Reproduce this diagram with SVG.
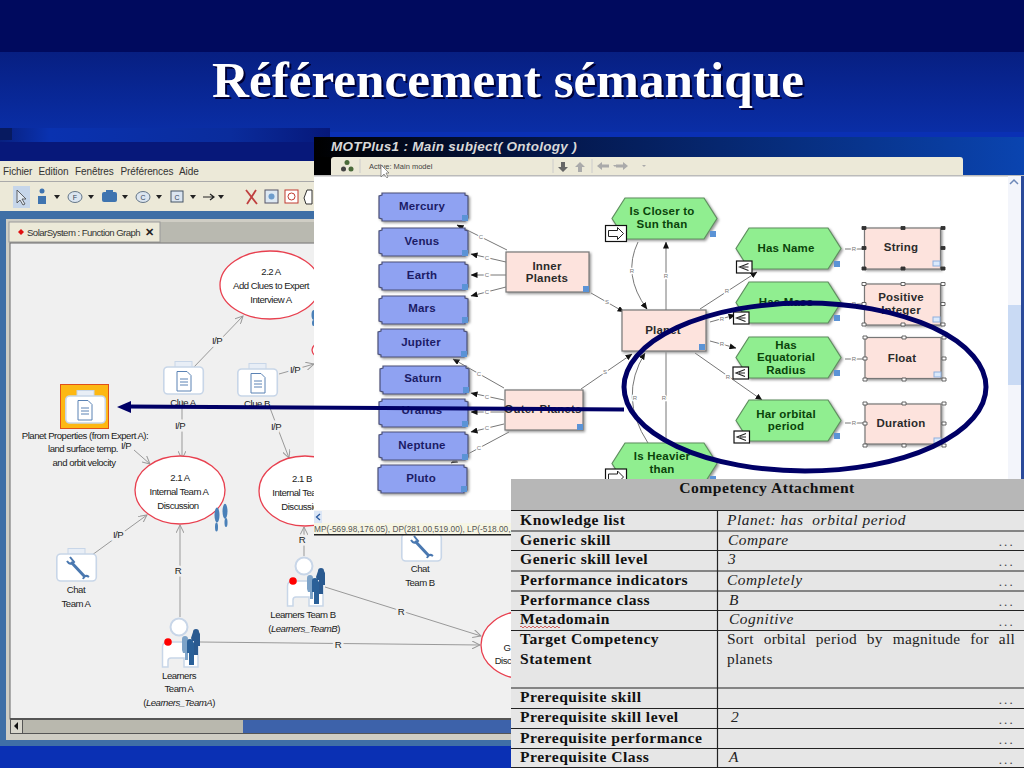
<svg xmlns="http://www.w3.org/2000/svg" width="1024" height="768" viewBox="0 0 1024 768">
<style>
text{font-family:"Liberation Sans",Arial,sans-serif}
.g{font-size:9.6px;fill:#222;text-anchor:middle;letter-spacing:-.5px}
.gl{font-size:9.6px;fill:#222;text-anchor:middle;letter-spacing:-.5px;paint-order:stroke;stroke:#f0f0f0;stroke-width:5px}
.gc{fill:none;stroke:#999;stroke-width:1;marker-end:url(#ga)}
.act{fill:#fff;stroke:#e8404f;stroke-width:1.3}
.m{font-size:10px;fill:#333;letter-spacing:-.1px}
.c{fill:none;stroke:#777;stroke-width:1;marker-end:url(#ma)}
.cn{fill:none;stroke:#777;stroke-width:1}
.cl{font-size:6px;fill:#777;text-anchor:middle;paint-order:stroke;stroke:#fff;stroke-width:2.5px}
.nb{font-size:11.5px;font-weight:bold;fill:#1c1c66;text-anchor:middle;letter-spacing:.2px}
.ng{font-size:11.5px;font-weight:bold;fill:#0a430a;text-anchor:middle;letter-spacing:.2px}
.np{font-size:11.5px;font-weight:bold;fill:#2b2b2b;text-anchor:middle;letter-spacing:.2px}
.concept{fill:#8fa2f2;stroke:#4a4f78;stroke-width:1.2;filter:url(#sh)}
.hex{fill:#90ee90;stroke:#5f8f5f;stroke-width:1.2;filter:url(#sh)}
.pink{fill:#fde3dd;stroke:#777;stroke-width:1.2;filter:url(#sh)}
.tag{fill:#5b93d6}
.hw{fill:#fff;stroke:#555;stroke-width:.9}
.hb{fill:#333;stroke:#333;stroke-width:.9}
.box{fill:#fff;stroke:#111;stroke-width:1.2}
.tl{font-family:"Liberation Serif","Times New Roman",serif;font-size:15.6px;font-weight:bold;fill:#111;letter-spacing:.5px}
.tr{font-family:"Liberation Serif","Times New Roman",serif;font-size:15.4px;font-style:italic;fill:#222;letter-spacing:.55px;white-space:pre}
.tn{font-family:"Liberation Serif","Times New Roman",serif;font-size:15.4px;fill:#222;letter-spacing:.3px}
.dots{font-family:"Liberation Serif","Times New Roman",serif;font-size:13px;fill:#444;text-anchor:end;letter-spacing:2.2px}
.rl{stroke:#222;stroke-width:1.2}
.title{font-family:"Liberation Serif","Times New Roman",serif;font-size:51.2px;font-weight:bold}
</style>
<defs>
<linearGradient id="bg" x1="0" y1="0" x2="0" y2="1"><stop offset="0" stop-color="#071f82"/><stop offset="1" stop-color="#0a2ea6"/></linearGradient>
<linearGradient id="band" x1="0" y1="0" x2="1" y2="0"><stop offset="0" stop-color="#08207f"/><stop offset=".15" stop-color="#0a32b0"/><stop offset=".7" stop-color="#0a2c9c"/><stop offset="1" stop-color="#06187a"/></linearGradient>
<linearGradient id="ttl" x1="0" y1="0" x2="1" y2="0"><stop offset="0" stop-color="#000"/><stop offset=".35" stop-color="#04184e"/><stop offset="1" stop-color="#0a44b0"/></linearGradient>
<filter id="sh" x="-5%" y="-5%" width="115%" height="120%"><feDropShadow dx="1.5" dy="1.5" stdDeviation=".8" flood-color="#999"/></filter>
<marker id="ga" markerWidth="9" markerHeight="8" refX="8" refY="4" orient="auto" markerUnits="userSpaceOnUse"><path d="M0,0 L8,4 L0,8" fill="none" stroke="#999"/></marker>
<marker id="ma" markerWidth="7" markerHeight="6" refX="6.5" refY="3" orient="auto" markerUnits="userSpaceOnUse"><path d="M0,0 L7,3 L0,6 Z" fill="#111"/></marker>
<path id="concept" d="M3,0 H86 V2 L89,3 V25 L86,26 V28 H3 V26 L0,25 V3 L3,2 Z"/>
<path id="hex" d="M13,0 H92 L105,20.5 L92,41 H13 L0,20.5 Z"/>
<g id="case"><rect x="12" y="0.5" width="17" height="8" fill="#e8eef6" stroke="#c8d6e8"/><rect x=".8" y="6" width="39.5" height="27" rx="4" fill="#fff" stroke="#c8d6e8" stroke-width="1.6"/></g>
<g id="doc"><path d="M14,10.5 H24 L28,14.5 V30 H14 Z" fill="#fff" stroke="#5a82b4"/><path d="M17,18 H25 M17,21 H25 M17,24 H25" stroke="#5a82b4"/></g>
<g id="wrench"><path d="M15,14 L29,29" stroke="#4a78b0" stroke-width="3" fill="none"/><path d="M11,13 Q14,18 18,14 L14,9" stroke="#4a78b0" stroke-width="2" fill="none"/><path d="M27,31 Q29,26 33,29" stroke="#4a78b0" stroke-width="2" fill="none"/></g>
<g id="person">
<circle cx="17" cy="10" r="8.5" fill="#fff" stroke="#c8d6e8" stroke-width="2"/>
<path d="M0.5,50 V30 Q.5,25 6,25 H30 Q36,25 36,30 V50 H22 V41 H9 Q6,41 6,44 V50 Z" fill="#fff" stroke="#c8d6e8" stroke-width="1.5"/>
<circle cx="6" cy="25" r="3.8" fill="#f00"/>
<path d="M20,22 a3,3 0 1 1 6,0 l2,3 v11 h-2 v7 h-3 v-7 h-2 l-1,-3 z" fill="#7da3c8"/>
<path d="M25,25 a3,3 0 1 1 6,0 l2,2 v9 h-1 v12 h-5 v-12 h-2 z" fill="#2a6098"/>
<path d="M31,15 a3,3 0 1 1 6,0 l1,2 v12 h-2 v9 h-4 v-14 h-2 l-1,-3 z" fill="#2a5a90"/>
</g>
<g id="feet"><ellipse cx="3" cy="6" rx="2.5" ry="5" fill="#4a80b8"/><ellipse cx="2.5" cy="14" rx="1.5" ry="3" fill="#4a80b8"/><ellipse cx="11" cy="3.5" rx="2.5" ry="5" fill="#4a80b8"/><ellipse cx="12" cy="11" rx="1.5" ry="3" fill="#4a80b8"/></g>
<g id="arrowbox"><rect class="box" x="0" y="0" width="21" height="16"/><path d="M3,5 H12 V2 L18,8 L12,14 V11 H3 Z" fill="#fff" stroke="#222"/></g>
<g id="ltbox"><rect class="box" x="0" y="0" width="15.5" height="12"/><path d="M12,2.5 L3,6 L12,9.5 M12,6 H6" fill="none" stroke="#222" stroke-width="1.1"/></g>
</defs>

<rect width="1024" height="768" fill="#0a30b4"/>
<rect width="1024" height="52" fill="#000a5e"/>
<rect y="52" width="1024" height="80" fill="url(#bg)"/>
<rect y="128" width="330" height="14" fill="url(#band)"/>
<rect y="142" width="330" height="20" fill="#07187a"/>
<rect x="0" y="128" width="12" height="12" fill="#071a60"/>
<text class="title" x="510" y="99" text-anchor="middle" fill="#000033">Référencement sémantique</text>
<text class="title" x="508" y="97" text-anchor="middle" fill="#fff">Référencement sémantique</text>

<g id="function-graph-window">
<rect x="0" y="161" width="511" height="580" fill="#ece9d8"/>
<rect x="0" y="181" width="330" height="1" fill="#aaa"/>
<text class="m" x="3" y="175">Fichier</text><text class="m" x="38.5" y="175">Edition</text><text class="m" x="75" y="175">Fenêtres</text><text class="m" x="120.5" y="175">Préférences</text><text class="m" x="179" y="175">Aide</text>
<g id="toolbar">
<rect x="13" y="186" width="17" height="22" fill="#c6d6ea"/>
<path d="M17,190 V203 L20,200 L23,205 L25,204 L22,199 L26,199 Z" fill="#dfe8f2" stroke="#444" stroke-width=".8"/>
<circle cx="42" cy="191" r="2.5" fill="#3f74b0"/><path d="M38,204 V196 H46 V204 Z" fill="#3f74b0"/>
<path d="M54,195 h6 l-3,4 z M88,195 h6 l-3,4 z M122,195 h6 l-3,4 z M156,195 h6 l-3,4 z M190,195 h6 l-3,4 z M218,195 h6 l-3,4 z" fill="#222"/>
<ellipse cx="75" cy="197" rx="7" ry="5.5" fill="#dbe5f0" stroke="#678"/><text x="75" y="200" text-anchor="middle" style="font-size:7px;fill:#345">F</text>
<rect x="102" y="192" width="15" height="10" rx="2" fill="#3f74b0"/><rect x="106" y="190" width="7" height="2" fill="#3f74b0"/>
<ellipse cx="143" cy="197" rx="7" ry="5.5" fill="#dbe5f0" stroke="#678"/><text x="143" y="200" text-anchor="middle" style="font-size:7px;fill:#345">C</text>
<rect x="171" y="191" width="12" height="11" fill="#dbe5f0" stroke="#456"/><text x="177" y="200" text-anchor="middle" style="font-size:7px;fill:#345">C</text>
<path d="M203,197 H214 M210,194 L214,197 L210,200" fill="none" stroke="#222" stroke-width="1.2"/>
<path d="M246,190 L257,204 M256,190 L247,204" stroke="#c04040" stroke-width="1.8"/>
<rect x="265" y="190" width="13" height="13" fill="#dde8f2" stroke="#556"/><circle cx="271.5" cy="196.5" r="3" fill="#6d9ccc"/>
<rect x="285" y="190" width="13" height="13" fill="#fff" stroke="#c03a30"/><circle cx="291.5" cy="196.5" r="3.5" fill="none" stroke="#c03a30"/>
<path d="M304,198 L307,190 H309 L312,190 V204 H306 Z" fill="#fff" stroke="#333"/>
</g>
<rect x="0" y="211" width="330" height="8" fill="#3f6fa6"/>
<rect x="0" y="211" width="6" height="534" fill="#3f6fa6"/>
<rect x="6" y="219" width="505" height="521" fill="#cfcdc4"/>
<rect x="160" y="222" width="170" height="20" fill="#b9b9b0"/>
<rect x="9" y="222" width="151" height="20" fill="#ece9d8" stroke="#999"/>
<path d="M21,229 L24,232 L21,235 L18,232 Z" fill="#e01010"/>
<text x="27" y="236" style="font-size:9.6px;fill:#333;letter-spacing:-.55px">SolarSystem : Function Graph</text>
<text x="149" y="236" text-anchor="middle" style="font-size:11px;font-weight:bold;fill:#222">✕</text>
<rect x="10" y="243" width="510" height="476" fill="#f0f0f0" stroke="#666"/>
<g id="scrollbar"><rect x="10" y="718" width="510" height="16" fill="#555"/><rect x="11" y="720" width="11" height="13" fill="#d8d6cc"/><path d="M18,722 V730 L14,726 Z" fill="#111"/><rect x="23" y="720" width="220" height="13" fill="#b9b8ae"/><rect x="243" y="720" width="280" height="13" fill="#3d62aa"/></g>
<rect x="6" y="735" width="510" height="5" fill="#cfcdc4"/>
<rect x="0" y="740" width="516" height="6" fill="#3f6fa6"/>

<g id="connectors-function-graph">
<path class="gc" d="M193,368 L243,316"/>
<path class="gc" d="M279,374 L314,364"/>
<path class="gc" d="M182,400 V459"/>
<path class="gc" d="M270,408 L289,458"/>
<path class="gc" d="M134,450 L150,464"/>
<path class="gc" d="M92,555 L147,515"/>
<path class="gc" d="M180,617 V525"/>
<path class="gc" d="M304,556 V527"/>
<path class="gc" d="M325,587 L481,636"/>
<path class="gc" d="M200,642 L480,645"/>
<text class="gl" x="217" y="344">I/P</text>
<text class="gl" x="295" y="373">I/P</text>
<text class="gl" x="180" y="429">I/P</text>
<text class="gl" x="276" y="430">I/P</text>
<text class="gl" x="126" y="449">I/P</text>
<text class="gl" x="118" y="538">I/P</text>
<text class="gl" x="178" y="574">R</text>
<text class="gl" x="302" y="543">R</text>
<text class="gl" x="401" y="615">R</text>
<text class="gl" x="338" y="648">R</text>
</g>
<g id="node-22a"><ellipse class="act" cx="270" cy="285" rx="50" ry="34"/><text class="g" x="271" y="275">2.2 A</text><text class="g" x="271" y="289">Add Clues to Expert</text><text class="g" x="271" y="303">Interview A</text></g>
<g id="node-hidden-activity"><ellipse class="act" cx="350" cy="350" rx="38" ry="14"/><use href="#feet" x="311" y="309"/></g>
<g id="node-clue-a"><use href="#case" x="163" y="361"/><use href="#doc" x="163" y="361"/><text class="g" x="183" y="406">Clue A</text></g>
<g id="node-clue-b"><use href="#case" x="237" y="363"/><use href="#doc" x="237" y="363"/><text class="g" x="257" y="407">Clue B</text></g>
<g id="node-planet-properties"><rect x="60.5" y="384.5" width="48" height="44" fill="#fdb813" stroke="#e0501a"/><use href="#case" x="65" y="390"/><use href="#doc" x="64" y="390"/>
<text class="g" x="85" y="439">Planet Properties (from Expert A):</text><text class="g" x="83" y="452">land surface temp.</text><text class="g" x="84" y="466">and orbit velocity</text></g>
<g id="node-21a"><ellipse class="act" cx="180" cy="490" rx="45" ry="34"/><text class="g" x="180" y="481">2.1 A</text><text class="g" x="179" y="495">Internal Team A</text><text class="g" x="178" y="509">Discussion</text><use href="#feet" transform="translate(214,506) scale(1,1.5)"/></g>
<g id="node-21b"><ellipse class="act" cx="305" cy="491" rx="46" ry="35"/><text class="g" x="302" y="482">2.1 B</text><text class="g" x="302" y="496">Internal Team B</text><text class="g" x="302" y="510">Discussion</text></g>
<g id="node-chat-a"><use href="#case" x="56" y="548"/><use href="#wrench" x="56" y="548"/><text class="g" x="76" y="593">Chat</text><text class="g" x="76" y="607">Team A</text></g>
<g id="node-chat-b"><use href="#case" x="401" y="528"/><use href="#wrench" x="400" y="527"/><text class="g" x="420" y="572">Chat</text><text class="g" x="420" y="586">Team B</text></g>
<g id="node-learners-a"><use href="#person" x="162" y="617"/><text class="g" x="179" y="679">Learners</text><text class="g" x="179" y="692">Team A</text><text class="g" x="179" y="706">(<tspan font-style="italic">Learners_TeamA</tspan>)</text></g>
<g id="node-learners-b"><use href="#person" x="287" y="556"/><text class="g" x="303" y="618">Learners Team B</text><text class="g" x="304" y="632">(<tspan font-style="italic">Learners_TeamB</tspan>)</text></g>
<g id="node-g"><ellipse class="act" cx="525" cy="645" rx="44" ry="34"/><text class="g" x="507" y="651">G</text><text class="g" x="503" y="664">Disc</text></g>
</g>

<g id="ontology-window">
<rect x="314" y="137" width="710" height="20" fill="url(#ttl)"/>
<rect x="314" y="157" width="710" height="19" fill="url(#ttl)"/>
<rect x="314" y="157" width="17" height="19" fill="#000"/>
<path d="M331,176 V160 Q331,157 334,157 H960 Q963,157 963,160 V176 Z" fill="#ece9d8"/>
<rect x="314" y="176" width="710" height="349" fill="#fff"/>
<rect x="314" y="175" width="710" height="1.5" fill="#bbb"/>
<text x="331" y="151" style="font-size:13.5px;font-weight:bold;font-style:italic;fill:#d8d8d8;letter-spacing:.3px">MOTPlus1 : Main subject( Ontology )</text>
<g id="ontology-toolbar">
<circle cx="347" cy="162.5" r="2.5" fill="#4a6a3a"/><circle cx="343.5" cy="169" r="2.5" fill="#444"/><circle cx="351" cy="169" r="2.5" fill="#4a6a3a"/>
<path d="M360,159 V173" stroke="#ccc"/>
<text x="369" y="169" style="font-size:7.5px;fill:#444">Active: Main model</text>
<path d="M381,165 V177 L384,174 L387,178 L388,177 L386,173 L389,173 Z" fill="#fff" stroke="#555" stroke-width=".6"/>
<path d="M553,159 V173" stroke="#ccc"/>
<path d="M561,162 H565 V167 H568 L563,172 L558,167 H561 Z" fill="#666"/><path d="M578,172 H582 V167 H585 L580,162 L575,167 H578 Z" fill="#aaa"/>
<path d="M592,159 V173" stroke="#ccc"/>
<path d="M597,166 L602,162 V164.5 H609 V167.5 H602 V170 Z" fill="#aaa"/><path d="M628,166 L623,162 V164.5 H616 V167.5 H623 V170 Z" fill="#aaa"/>
<path d="M613,165 h4 l-2,2 z M642,165 h4 l-2,2 z" fill="#aaa"/>
</g>
<g id="ontology-scrollbars">
<rect x="1008" y="176" width="13" height="349" fill="#f3f5fb"/><rect x="1021" y="176" width="3" height="349" fill="#2a4a9a"/>
<rect x="1008" y="305" width="13" height="80" fill="#c9daf4"/>
<path d="M1010,184 L1014,180 L1018,184" fill="none" stroke="#6d88b8" stroke-width="1.5"/>
<rect x="314" y="510" width="694" height="13" fill="#f4f4f4"/>
<rect x="314" y="511" width="8" height="12" fill="#dbe6f6"/><path d="M320,514 L316.5,517 L320,520" fill="none" stroke="#2a5aa0" stroke-width="1.3"/>
<rect x="314" y="523" width="710" height="11" fill="#f6f5e4"/>
<rect x="314" y="534" width="710" height="1.5" fill="#222"/>
<text x="314" y="532" style="font-size:8.3px;fill:#555">MP(-569.98,176.05), DP(281.00,519.00), LP(-518.00,</text>
</g>

<g id="connectors-ontology">
<path class="c" d="M507,250 L457,225"/><path class="c" d="M506,262 L471,254"/><path class="c" d="M506,275 H471"/><path class="c" d="M506,287 L471,296"/>
<path class="c" d="M591,293 L624,312"/>
<path class="c" d="M504,388 L453,359"/><path class="c" d="M504,400 L471,393"/><path class="c" d="M504,412 H471"/><path class="c" d="M504,424 L471,432"/><path class="c" d="M509,432 L451,463"/>
<path class="c" d="M581,389 L632,354"/>
<path class="c" d="M638,242 Q622,275 647,309"/>
<path class="c" d="M666,310 V242"/>
<path class="c" d="M700,309 L757,272"/>
<path class="c" d="M710,322 L735,315"/>
<path class="c" d="M710,341 L736,348"/>
<path class="c" d="M695,353 L762,400"/>
<path class="c" d="M648,443 Q618,397 645,353"/>
<path class="cn" d="M666,443 V352"/>
<path class="cn" d="M845,249 H865 M845,304 H865 M845,359 H865 M845,423 H865"/>
<text class="cl" x="481" y="239">C</text><text class="cl" x="487" y="260">C</text><text class="cl" x="487" y="277">C</text><text class="cl" x="487" y="294">C</text><text class="cl" x="607" y="304">S</text>
<text class="cl" x="479" y="376">C</text><text class="cl" x="487" y="399">C</text><text class="cl" x="487" y="414">C</text><text class="cl" x="487" y="430">C</text><text class="cl" x="479" y="450">C</text><text class="cl" x="605" y="374">S</text>
<text class="cl" x="632" y="273">R</text><text class="cl" x="666" y="278">R</text><text class="cl" x="727" y="293">R</text><text class="cl" x="722" y="321">R</text><text class="cl" x="722" y="346">R</text><text class="cl" x="728" y="379">R</text><text class="cl" x="635" y="400">R</text><text class="cl" x="664" y="400">R</text>
<text class="cl" x="854" y="251">R</text><text class="cl" x="854" y="306">R</text><text class="cl" x="854" y="361">R</text><text class="cl" x="854" y="425">R</text>
</g>

<g id="node-mercury"><use href="#concept" class="concept" x="379" y="193"/><rect class="tag" x="462" y="215" width="6" height="6"/><text class="nb" x="422" y="210">Mercury</text></g>
<g id="node-venus"><use href="#concept" class="concept" x="379" y="228"/><rect class="tag" x="462" y="250" width="6" height="6"/><text class="nb" x="422" y="245">Venus</text></g>
<g id="node-earth"><use href="#concept" class="concept" x="379" y="262"/><rect class="tag" x="462" y="284" width="6" height="6"/><text class="nb" x="422" y="279">Earth</text></g>
<g id="node-mars"><use href="#concept" class="concept" x="379" y="296"/><rect class="tag" x="462" y="317" width="6" height="6"/><text class="nb" x="422" y="312">Mars</text></g>
<g id="node-jupiter"><use href="#concept" class="concept" x="378" y="329"/><rect class="tag" x="461" y="351" width="6" height="6"/><text class="nb" x="421" y="346">Jupiter</text></g>
<g id="node-saturn"><use href="#concept" class="concept" x="380" y="366"/><rect class="tag" x="463" y="387" width="6" height="6"/><text class="nb" x="423" y="382">Saturn</text></g>
<g id="node-uranus"><use href="#concept" class="concept" x="379" y="399"/><rect class="tag" x="462" y="421" width="6" height="6"/><text class="nb" x="422" y="414">Uranus</text></g>
<g id="node-neptune"><use href="#concept" class="concept" x="379" y="432"/><rect class="tag" x="462" y="454" width="6" height="6"/><text class="nb" x="422" y="449">Neptune</text></g>
<g id="node-pluto"><use href="#concept" class="concept" x="378" y="465"/><rect class="tag" x="461" y="486" width="6" height="6"/><text class="nb" x="421" y="482">Pluto</text></g>

<g id="node-inner-planets"><rect class="pink" x="506" y="252" width="83" height="40"/><rect class="tag" x="583" y="286" width="6" height="6"/><text class="np" x="547" y="270">Inner</text><text class="np" x="547" y="282">Planets</text></g>
<g id="node-outer-planets"><rect class="pink" x="505" y="390" width="78" height="40"/><rect class="tag" x="577" y="424" width="6" height="6"/><text class="np" x="543" y="413">Outer Planets</text></g>
<g id="node-planet"><rect class="pink" x="622" y="310" width="84" height="41"/><rect class="tag" x="699" y="344" width="6" height="6"/><text class="np" x="663" y="334">Planet</text></g>

<g id="node-closer"><use href="#hex" class="hex" x="612" y="198"/><rect class="tag" x="710" y="231" width="6" height="6"/><text class="ng" x="662" y="215">Is Closer to</text><text class="ng" x="662" y="228">Sun than</text><use href="#arrowbox" x="605.5" y="225.5"/></g>
<g id="node-has-name"><use href="#hex" class="hex" x="736" y="228"/><rect class="tag" x="834" y="261" width="6" height="6"/><text class="ng" x="786" y="252">Has Name</text><use href="#ltbox" x="736.5" y="261"/></g>
<g id="node-has-mass"><use href="#hex" class="hex" x="736" y="282"/><rect class="tag" x="834" y="315" width="6" height="6"/><text class="ng" x="786" y="306">Has Mass</text><use href="#ltbox" x="733.5" y="312"/></g>
<g id="node-equatorial"><use href="#hex" class="hex" x="736" y="337"/><rect class="tag" x="834" y="370" width="6" height="6"/><text class="ng" x="786" y="349">Has</text><text class="ng" x="786" y="361">Equatorial</text><text class="ng" x="786" y="374">Radius</text><use href="#ltbox" x="733" y="367"/></g>
<g id="node-orbital"><use href="#hex" class="hex" x="736" y="400"/><rect class="tag" x="834" y="433" width="6" height="6"/><text class="ng" x="786" y="418">Har orbital</text><text class="ng" x="786" y="430">period</text><use href="#ltbox" x="734" y="431"/></g>
<g id="node-heavier"><use href="#hex" class="hex" x="612" y="443"/><rect class="tag" x="710" y="476" width="6" height="6"/><text class="ng" x="662" y="460">Is Heavier</text><text class="ng" x="662" y="473">than</text><use href="#arrowbox" x="605.5" y="469"/></g>

<g id="node-string"><rect class="pink" x="864.5" y="228" width="76" height="41"/><text class="np" x="901" y="251">String</text><rect x="933" y="261" width="7" height="5" fill="#dbe9fb" stroke="#8fb0de"/>
<path class="hb" d="M862,226.5h4v3h-4z M901,226.5h4v3h-4z M941,226.5h4v3h-4z M862,246.5h4v3h-4z M941,246.5h4v3h-4z M862,267h4v3h-4z M901,267h4v3h-4z M941,267h4v3h-4z"/></g>
<g id="node-positive-integer"><rect class="pink" x="864.5" y="284" width="76" height="41"/><text class="np" x="901" y="301">Positive</text><text class="np" x="901" y="314">Integer</text><rect x="933" y="317" width="7" height="5" fill="#dbe9fb" stroke="#8fb0de"/>
<path class="hw" d="M862,282.5h4v3h-4z M901,282.5h4v3h-4z M941,282.5h4v3h-4z M862,302.5h4v3h-4z M941,302.5h4v3h-4z M862,323h4v3h-4z M901,323h4v3h-4z M941,323h4v3h-4z"/></g>
<g id="node-float"><rect class="pink" x="865" y="337.5" width="76" height="41"/><text class="np" x="902" y="362">Float</text><rect x="934" y="372" width="7" height="5" fill="#dbe9fb" stroke="#8fb0de"/>
<path class="hw" d="M863,336h4v3h-4z M902,336h4v3h-4z M942,336h4v3h-4z M863,357h4v3h-4z M942,357h4v3h-4z M863,378h4v3h-4z M902,378h4v3h-4z M942,378h4v3h-4z"/></g>
<g id="node-duration"><rect class="pink" x="865" y="404" width="76" height="40"/><text class="np" x="901" y="427">Duration</text><rect x="934" y="438" width="7" height="5" fill="#dbe9fb" stroke="#8fb0de"/>
<path class="hw" d="M863,402h4v3h-4z M902,402h4v3h-4z M942,402h4v3h-4z M863,422h4v3h-4z M942,422h4v3h-4z M863,444h4v3h-4z M902,444h4v3h-4z M942,444h4v3h-4z"/></g>
</g>

<g id="competency-table">
<rect x="511" y="479" width="513" height="289" fill="#e6e6e6"/>
<rect x="511" y="479" width="513" height="31" fill="#b7b7b7"/>
<path class="rl" d="M511,510.5H1024 M511,531H1024 M511,550.5H1024 M511,571H1024 M511,591H1024 M511,610.5H1024 M511,630.5H1024 M511,688H1024 M511,708.5H1024 M511,728.5H1024 M511,748.5H1024 M511,767.5H1024 M717.5,510V768"/>
<text class="tl" x="767" y="493" text-anchor="middle">Competency Attachment</text>
<text class="tl" x="520" y="525">Knowledge list</text>
<text class="tl" x="520" y="545">Generic skill</text>
<text class="tl" x="520" y="564">Generic skill level</text>
<text class="tl" x="520" y="585">Performance indicators</text>
<text class="tl" x="520" y="605">Performance class</text>
<text class="tl" x="520" y="624">Metadomain</text>
<path d="M520,627 q1,-2 2,0 t2,0 t2,0 t2,0 t2,0 t2,0 t2,0 t2,0 t2,0 t2,0 t2,0 t2,0 t2,0 t2,0 t2,0 t2,0 t2,0 t2,0 t2,0 t2,0" fill="none" stroke="#d04040" stroke-width=".8"/>
<text class="tl" x="520" y="644">Target Competency</text>
<text class="tl" x="520" y="664">Statement</text>
<text class="tl" x="520" y="702">Prerequisite skill</text>
<text class="tl" x="520" y="722">Prerequisite skill level</text>
<text class="tl" x="520" y="743">Prerequisite performance</text>
<text class="tl" x="520" y="762">Prerequisite Class</text>
<text class="tr" x="727" y="525">Planet: has  orbital period</text>
<text class="tr" x="728" y="545">Compare</text>
<text class="tr" x="728" y="564">3</text>
<text class="tr" x="727" y="585">Completely</text>
<text class="tr" x="729" y="605">B</text>
<text class="tr" x="729" y="624">Cognitive</text>
<text class="tn" x="727" y="644" word-spacing="5.7">Sort orbital period by magnitude for all</text>
<text class="tn" x="727" y="664">planets</text>
<text class="tr" x="731" y="722">2</text>
<text class="tr" x="729" y="762">A</text>
<text class="dots" x="1015" y="546">...</text><text class="dots" x="1015" y="566">...</text><text class="dots" x="1015" y="586">...</text><text class="dots" x="1015" y="606">...</text><text class="dots" x="1015" y="626">...</text><text class="dots" x="1015" y="704">...</text><text class="dots" x="1015" y="724">...</text><text class="dots" x="1015" y="744">...</text><text class="dots" x="1015" y="764">...</text>
</g>

<g id="callout">
<ellipse cx="805" cy="387" rx="181" ry="84" fill="none" stroke="#000066" stroke-width="5"/>
<path d="M126,406.5 L624,409.5" stroke="#000066" stroke-width="4" fill="none"/>
<path d="M117,407 L131,401 V413 Z" fill="#000066"/>
</g>
</svg>
